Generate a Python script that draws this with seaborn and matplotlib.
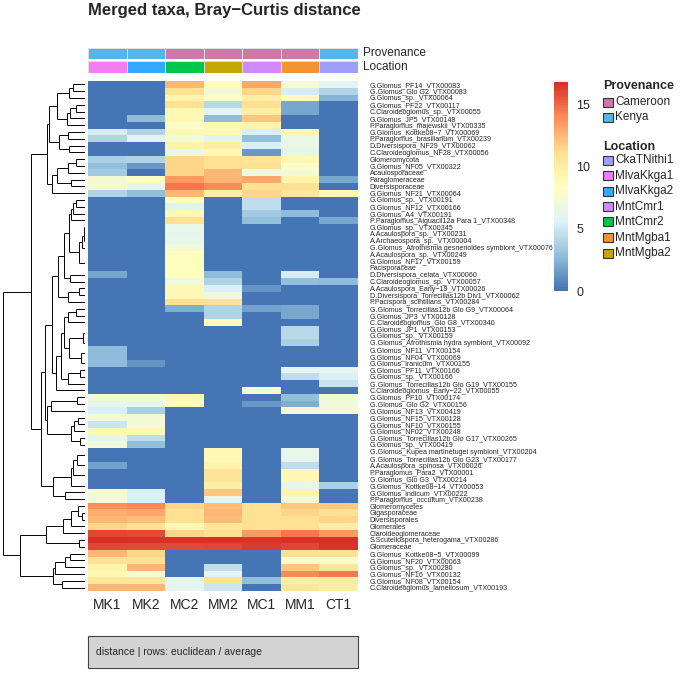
import numpy as np
import pandas as pd
import seaborn as sns
import matplotlib
matplotlib.use("Agg")
import matplotlib.pyplot as plt
from matplotlib.colors import LinearSegmentedColormap, ListedColormap
from matplotlib.patches import Rectangle

# ---------------- data ----------------
taxa = [
    "G.Glomus_PF14_VTX00083", "G.Glomus_Glo G2_VTX00083", "G.Glomus_sp._VTX00064",
    "G.Glomus_PF22_VTX00117", "C.Claroideoglomus_sp._VTX00055", "G.Glomus_JP5_VTX00148",
    "P.Paraglomus_majewskii_VTX00335", "G.Glomus_Kottke08\u22127_VTX00069",
    "P.Paraglomus_brasilianum_VTX00239", "D.Diversispora_NF29_VTX00062",
    "C.Claroideoglomus_NF28_VTX00056", "Glomeromycota", "G.Glomus_NF05_VTX00322",
    "Acaulosporaceae", "Paraglomeraceae", "Diversisporaceae", "G.Glomus_NF21_VTX00064",
    "G.Glomus_sp._VTX00191", "G.Glomus_NF12_VTX00166", "G.Glomus_A4_VTX00191",
    "P.Paraglomus_Alguacil12a Para 1_VTX00348", "G.Glomus_sp._VTX00345",
    "A.Acaulospora_sp._VTX00231", "A.Archaeospora_sp._VTX00004",
    "G.Glomus_Afrothismia gesnerioides symbiont_VTX00076", "A.Acaulospora_sp._VTX00249",
    "G.Glomus_NF17_VTX00159", "Pacisporaceae", "D.Diversispora_celata_VTX00060",
    "C.Claroideoglomus_sp._VTX00057", "A.Acaulospora_Early\u221219_VTX00026",
    "D.Diversispora_Torrecillas12b Div1_VTX00062", "P.Pacispora_scintillans_VTX00284",
    "G.Glomus_Torrecillas12b Glo G9_VTX00064", "G.Glomus_JP3_VTX00128",
    "C.Claroideoglomus_Glo G8_VTX00340", "G.Glomus_JP1_VTX00153", "G.Glomus_sp._VTX00159",
    "G.Glomus_Afrothismia hydra symbiont_VTX00092", "G.Glomus_NF11_VTX00154",
    "G.Glomus_NF04_VTX00069", "G.Glomus_iranicum_VTX00155", "G.Glomus_PF11_VTX00166",
    "G.Glomus_sp._VTX00166", "G.Glomus_Torrecillas12b Glo G19_VTX00155",
    "C.Claroideoglomus_Early\u221222_VTX00055", "G.Glomus_PF10_VTX00174",
    "G.Glomus_Glo G2_VTX00156", "G.Glomus_NF13_VTX00419", "G.Glomus_NF15_VTX00128",
    "G.Glomus_NF10_VTX00155", "G.Glomus_NF02_VTX00248",
    "G.Glomus_Torrecillas12b Glo G17_VTX00265", "G.Glomus_sp._VTX00419",
    "G.Glomus_Kupea martinetugei symbiont_VTX00204",
    "G.Glomus_Torrecillas12b Glo G23_VTX00177", "A.Acaulospora_spinosa_VTX00026",
    "P.Paraglomus_Para2_VTX00001", "G.Glomus_Glo G3_VTX00214",
    "G.Glomus_Kottke08\u221214_VTX00053", "G.Glomus_indicum_VTX00222",
    "P.Paraglomus_occultum_VTX00238", "Glomeromycetes", "Gigasporaceae", "Diversisporales",
    "Glomerales", "Claroideoglomeraceae", "S.Scutellospora_heterogama_VTX00286",
    "Glomeraceae", "G.Glomus_Kottke08\u22125_VTX00099", "G.Glomus_NF20_VTX00063",
    "G.Glomus_sp._VTX00280", "G.Glomus_NF16_VTX00132", "G.Glomus_NF08_VTX00154",
    "C.Claroideoglomus_lamellosum_VTX00193",
]

samples = ["MK1", "MK2", "MC2", "MM2", "MC1", "MM1", "CT1"]
provenance = ["Kenya", "Kenya", "Cameroon", "Cameroon", "Cameroon", "Cameroon", "Kenya"]
location = ["MlvaKkga1", "MlvaKkga2", "MntCmr2", "MntMgba2", "MntCmr1", "MntMgba1", "CkaTNithi1"]

MK1 = [0, 0, 0, 0, 0, 0, 0, 5.3, 4, 0, 0, 3.8, 3, 3.5, 7.5, 7.5, 4, 0, 0, 0,
       0, 0, 0, 0, 0, 0, 0, 0, 2, 0, 0, 0, 0, 0, 0, 0, 0, 0, 0, 2.8,
       2.8, 2.8, 0, 0, 0, 0, 7.5, 6.3, 5.5, 7.3, 5, 9, 6.2, 7, 0, 0, 1.8, 0, 0, 0,
       7.5, 7.3, 13.8, 12.8, 12.5, 11.5, 16, 16.8, 16, 12.5, 11, 9.5, 9, 10.5, 12.5]
MK2 = [0, 0, 0, 0, 0, 2.7, 0, 4, 6, 0, 0, 4, 1.5, 0, 8.5, 6, 3, 0, 0, 0,
       0, 0, 0, 0, 0, 0, 0, 0, 0, 0, 0, 0, 0, 0, 0, 0, 0, 0, 0, 0,
       0, 1.2, 0, 0, 0, 0, 7.5, 6.3, 3.8, 7.3, 7.3, 9, 4.5, 3, 0, 0, 0, 0, 0, 0,
       5.5, 5.5, 14, 13, 12.3, 11, 15.8, 16.8, 15.8, 11.5, 11, 12.5, 7.5, 10.5, 12.5]
MC2 = [12.5, 11, 9.5, 11, 9, 9, 8, 9, 7.5, 9.5, 6.5, 11.5, 11.5, 11.5, 13.5, 14.5, 12.5, 8.5, 5.8, 9,
       11, 6.5, 6.2, 6.5, 7.2, 8.5, 8.5, 8.5, 8.5, 7, 9, 9, 11, 2.2, 0, 0, 0, 0, 0, 0,
       0, 0, 0, 0, 0, 0, 9, 8.5, 0, 0, 0, 0, 0, 0, 0, 0, 0, 0, 0, 0,
       0, 0, 11.5, 11, 11, 9, 11.5, 16.8, 15.8, 0, 0, 0, 0, 6, 6]
MM2 = [8.5, 7.5, 8, 4.3, 6, 2.7, 9, 9, 6, 10, 9, 11, 11, 12.5, 12.5, 14, 10, 0, 0, 0,
       0, 0, 0, 0, 0, 0, 0, 0, 2.7, 4, 5.5, 7, 11, 4, 4, 8.5, 0, 0, 0, 0,
       0, 0, 0, 0, 0, 0, 0, 0, 0, 0, 0, 0, 0, 0, 9, 9, 9.5, 10.8, 10.8, 10,
       12, 6, 12.3, 12.5, 12.3, 10.5, 11, 16.8, 16, 0, 0, 4.5, 6, 11, 5]
MC1 = [13, 11.5, 10, 11, 10, 12, 9.5, 5.5, 3, 5.5, 1.5, 10.8, 11, 7, 13, 11, 11.5, 4.5, 4.5, 3.5,
       3, 0, 0, 0, 0, 0, 0, 0, 0, 0, 1.3, 0, 0, 1.8, 0, 0, 0, 0, 0, 0,
       0, 0, 0, 0, 0, 7.5, 0, 1.5, 0, 0, 0, 0, 0, 0, 0, 0, 0, 0, 0, 0,
       0, 0, 11, 11, 11, 11, 13.5, 16.5, 16.3, 0, 0, 0, 0, 3, 0]
MM1 = [7.5, 5.3, 8.5, 2, 2, 0, 0, 9, 6.5, 6.5, 6.3, 9, 8, 7.5, 9.5, 11, 10.5, 0, 0, 2.8,
       0, 0, 0, 0, 0, 0, 0, 0, 5.3, 3, 0, 0, 0, 2, 2, 0, 4.2, 4.3, 3.7, 0,
       0, 0, 6, 4.5, 0, 0, 3, 2.3, 7.3, 0, 0, 0, 0, 0, 6.3, 6.2, 4.5, 9, 9, 6.3,
       9.5, 7.5, 12, 11.5, 11, 11, 14.5, 16.8, 16, 11, 8, 12, 14, 10, 10.5]
CT1 = [6, 4, 2.5, 0, 0, 0, 0, 0, 0, 0, 0, 0, 0, 0, 2, 0, 9, 0, 0, 0,
       2, 0, 0, 0, 0, 0, 0, 0, 0, 2.7, 0, 0, 0, 0, 0, 0, 0, 0, 0, 0,
       0, 0, 6, 5.5, 4.8, 0, 7.5, 7, 7.3, 0, 0, 0, 0, 0, 0, 0, 0, 0, 0, 3.8,
       0, 0, 12, 11, 11.5, 10, 13.5, 16.8, 16.5, 11, 8, 10.5, 14.5, 10, 10]

# ---------------- styling ----------------
sns.set_theme(style="white")
plt.rcParams["font.family"] = ["Liberation Sans", "DejaVu Sans"]

W, H = 685, 680
fig = plt.figure(figsize=(W / 100, H / 100), dpi=100)


def ax_px(x0, y0, x1, y1):
    return fig.add_axes([x0 / W, 1 - y1 / H, (x1 - x0) / W, (y1 - y0) / H])


df = pd.DataFrame({"MK1": MK1, "MK2": MK2, "MC2": MC2, "MM2": MM2,
                   "MC1": MC1, "MM1": MM1, "CT1": CT1}, index=taxa)[samples]

base = ["#4575B4", "#91BFDB", "#E0F3F8", "#FFFFBF", "#FEE090", "#FC8D59", "#D73027"]
cmap = ListedColormap(LinearSegmentedColormap.from_list("rdylbu", base)(np.linspace(0, 1, 100)))
vmax = 16.8

# heatmap
ax_hm = ax_px(88, 81, 358, 591)
ax_cb = ax_px(554, 82, 568, 291)
sns.heatmap(df, ax=ax_hm, cmap=cmap, vmin=0, vmax=vmax, cbar_ax=ax_cb,
            linewidths=0, xticklabels=True, yticklabels=True)
ax_hm.yaxis.tick_right()
ax_hm.set_yticklabels(taxa, rotation=0, fontsize=5.1, ha="left")
ax_hm.set_xticklabels(samples, rotation=0, fontsize=10)
ax_hm.tick_params(axis="y", length=0, pad=8.5)
ax_hm.tick_params(axis="x", length=0, pad=5)
ax_hm.set_xlabel("")
ax_hm.set_ylabel("")

cb = ax_hm.collections[0].colorbar
cb.outline.set_visible(False)
cb.set_ticks([0, 5, 10, 15])
ax_cb.tick_params(labelsize=9, length=0, pad=6)

# annotation bars
prov_colors = {"Cameroon": "#CC79A7", "Kenya": "#56B4E9"}
loc_colors = {"CkaTNithi1": "#9E9EFF", "MlvaKkga1": "#F37CF0", "MlvaKkga2": "#35A9FF",
              "MntCmr1": "#CF8AFF", "MntCmr2": "#00C54E", "MntMgba1": "#F39433",
              "MntMgba2": "#C3A800"}

for (y0, y1, values, cdict, name) in [(47.5, 58.5, provenance, prov_colors, "Provenance"),
                                      (61.5, 72.5, location, loc_colors, "Location")]:
    cats = list(cdict.keys())
    codes = pd.DataFrame([[cats.index(v) for v in values]], columns=samples)
    ax = ax_px(88, y0, 358, y1)
    sns.heatmap(codes, ax=ax, cmap=ListedColormap([cdict[c] for c in cats]),
                vmin=-0.5, vmax=len(cats) - 0.5, cbar=False, linewidths=0.4,
                linecolor="#e0e0e0", xticklabels=False, yticklabels=False)
    fig.text(363 / W, 1 - ((y0 + y1) / 2) / H, name, fontsize=8.5, va="center", ha="left")

# row dendrogram (average linkage, euclidean, following the displayed row order)
X = df.values
n = len(X)
D = np.sqrt(((X[:, None, :] - X[None, :, :]) ** 2).sum(-1))
clusters = [[i] for i in range(n)]
ypos = [i + 0.5 for i in range(n)]
hts = [0.0] * n
segs = []
while len(clusters) > 1:
    best = None
    for k in range(len(clusters) - 1):
        d = D[np.ix_(clusters[k], clusters[k + 1])].mean()
        if best is None or d < best[0]:
            best = (d, k)
    d, k = best
    h = max(d, hts[k], hts[k + 1])
    segs.append(([hts[k], h], [ypos[k], ypos[k]]))
    segs.append(([hts[k + 1], h], [ypos[k + 1], ypos[k + 1]]))
    segs.append(([h, h], [ypos[k], ypos[k + 1]]))
    clusters[k:k + 2] = [clusters[k] + clusters[k + 1]]
    ypos[k:k + 2] = [(ypos[k] + ypos[k + 1]) / 2]
    hts[k:k + 2] = [h]

ax_d = ax_px(3, 81, 85, 591)
for xs, ys in segs:
    ax_d.plot(xs, ys, color="black", lw=0.7, solid_capstyle="butt")
ax_d.set_xlim(hts[0], 0)
ax_d.set_ylim(n, 0)
ax_d.axis("off")

# title
fig.text(88 / W, 1 - 10 / H, "Merged taxa, Bray\u2212Curtis distance", fontsize=12,
         fontweight="bold", va="center", ha="left")

# legends
fig.text(603 / W, 1 - 86 / H, "Provenance", fontsize=9, fontweight="bold", va="center")
for i, c in enumerate(["Cameroon", "Kenya"]):
    yc = 102 + i * 15
    fig.patches.append(Rectangle((603 / W, 1 - (yc + 4.5) / H), 10 / W, 9 / H,
                                 transform=fig.transFigure, facecolor=prov_colors[c],
                                 edgecolor="#333333", lw=0.8))
    fig.text(615 / W, 1 - yc / H, c, fontsize=8.5, va="center")

fig.text(603 / W, 1 - 147 / H, "Location", fontsize=9, fontweight="bold", va="center")
for i, c in enumerate(loc_colors):
    yc = 160 + i * 15.5
    fig.patches.append(Rectangle((603 / W, 1 - (yc + 4.5) / H), 10 / W, 9 / H,
                                 transform=fig.transFigure, facecolor=loc_colors[c],
                                 edgecolor="#333333", lw=0.8))
    fig.text(615 / W, 1 - yc / H, c, fontsize=8.5, va="center")

# caption box
fig.patches.append(Rectangle((88 / W, 1 - 668 / H), 270 / W, 32 / H, transform=fig.transFigure,
                             facecolor="#D3D3D3", edgecolor="#444444", lw=0.8))
fig.text(96 / W, 1 - 652 / H, "distance | rows: euclidean / average", fontsize=7.5,
         va="center", ha="left")

fig.savefig("out.png", dpi=100)
